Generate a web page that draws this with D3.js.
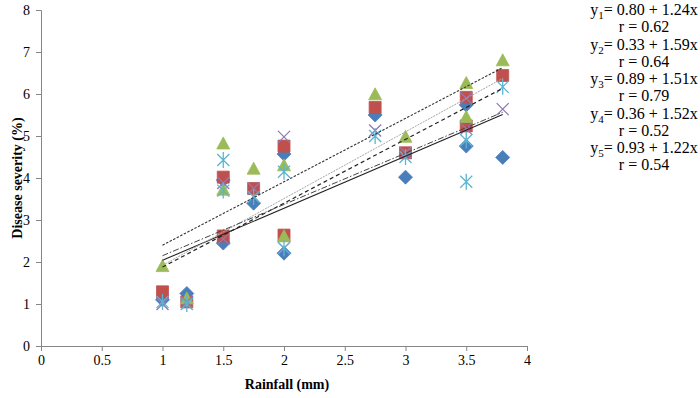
<!DOCTYPE html>
<html>
<head>
<meta charset="utf-8">
<script src="https://cdn.jsdelivr.net/npm/d3@7"></script>
<style>
  body { margin: 0; background: #fff; }
  text { font-family: "Liberation Serif", "Times New Roman", serif; fill: #000; }
</style>
</head>
<body>
<svg id="chart"></svg>
<script>
// Rainfall (mm) observations, shared by all five series
const rainfall = [1, 1.2, 1.5, 1.5, 1.75, 2, 2, 2.75, 3, 3.5, 3.5, 3.8];

// Disease severity (%) per series
const sev1 = [1.10, 1.25, 3.95, 2.45, 3.40, 4.57, 2.21, 5.50, 4.02, 5.74, 4.76, 4.49];
const sev2 = [1.29, 1.05, 4.02, 2.62, 3.75, 4.76, 2.64, 5.68, 4.60, 5.92, 5.24, 6.44];
const sev3 = [1.89, 1.12, 4.81, 3.71, 4.21, 4.29, 2.60, 5.98, 4.97, 6.25, 5.44, 6.79];
const sev4 = [1.00, 1.05, 3.88, 2.55, 3.75, 4.98, 2.33, 5.13, 4.60, 5.90, 5.17, 5.64];
const sev5 = [1.05, 1.00, 4.43, 3.70, 3.55, 4.15, 2.33, 5.00, 4.50, 4.90, 3.91, 6.17];

// fitted equations printed on the chart
const intercepts = [0.80, 0.33, 0.89, 0.36, 0.93];
const slopes = [1.24, 1.59, 1.51, 1.52, 1.22];
const rValues = ["0.62", "0.64", "0.79", "0.52", "0.54"];

const xTicks = [0, 0.5, 1, 1.5, 2, 2.5, 3, 3.5, 4];
const yTicks = [0, 1, 2, 3, 4, 5, 6, 7, 8];

const svg_width = 700, svg_height = 398;
const svg = d3.select("#chart")
    .attr("width", svg_width)
    .attr("height", svg_height);

const x = d3.scaleLinear().domain([0, 4]).range([41, 527]);
const y = d3.scaleLinear().domain([0, 8]).range([346, 10]);

const axisColor = "#868686";

// axes
const gx = svg.append("g")
    .attr("transform", `translate(0,${y(0)})`)
    .call(d3.axisBottom(x).tickValues(xTicks).tickFormat(d3.format("")).tickSizeOuter(0).tickSize(5).tickPadding(4));
const gy = svg.append("g")
    .attr("transform", `translate(${x(0)},0)`)
    .call(d3.axisLeft(y).tickValues(yTicks).tickSizeOuter(0).tickSize(5).tickPadding(6));

[gx, gy].forEach(g => {
    g.select(".domain").attr("stroke", axisColor);
    g.selectAll(".tick line").attr("stroke", axisColor);
    g.selectAll(".tick text")
        .style("font-family", "'Liberation Serif', serif")
        .style("font-size", "14px")
        .attr("fill", "#000");
});

svg.append("text")
    .attr("x", 287)
    .attr("y", 389)
    .attr("text-anchor", "middle")
    .style("font-size", "14px")
    .style("font-weight", "bold")
    .text("Rainfall (mm)");

svg.append("text")
    .attr("transform", `translate(17,${y(4)}) rotate(-90)`)
    .attr("text-anchor", "middle")
    .attr("dy", "0.35em")
    .style("font-size", "14px")
    .style("font-weight", "bold")
    .text("Disease severity (%)");

// markers
const series = [
    { values: sev1, color: "#4A7EBB", shape: "diamond" },
    { values: sev2, color: "#C0504D", shape: "square" },
    { values: sev3, color: "#9BBB59", shape: "triangle" },
    { values: sev4, color: "#8D7AB5", shape: "x" },
    { values: sev5, color: "#5BB5D0", shape: "star" }
];

function markerPath(shape) {
    const p = d3.path();
    if (shape === "diamond") {
        p.moveTo(0, -7); p.lineTo(7, 0); p.lineTo(0, 7); p.lineTo(-7, 0); p.closePath();
    } else if (shape === "square") {
        p.rect(-6, -6, 12, 12);
    } else if (shape === "triangle") {
        p.moveTo(0, -7); p.lineTo(6.5, 5); p.lineTo(-6.5, 5); p.closePath();
    } else if (shape === "x") {
        p.moveTo(-6, -6); p.lineTo(6, 6); p.moveTo(6, -6); p.lineTo(-6, 6);
    } else {
        p.moveTo(-6, -6); p.lineTo(6, 6); p.moveTo(6, -6); p.lineTo(-6, 6);
        p.moveTo(0, -8); p.lineTo(0, 8);
    }
    return p.toString();
}

series.forEach(s => {
    const filled = s.shape === "diamond" || s.shape === "square" || s.shape === "triangle";
    svg.append("g")
        .selectAll("path")
        .data(s.values.map((v, i) => ({ x: rainfall[i], y: v })))
        .join("path")
        .attr("transform", d => `translate(${x(d.x)},${y(d.y)})`)
        .attr("d", markerPath(s.shape))
        .attr("fill", filled ? s.color : "none")
        .attr("stroke", s.color)
        .attr("stroke-width", filled ? 0.8 : 1.3);
});

// trend lines from the printed equations, over the observed rainfall range
const lineStyles = [
    { dash: null, color: "#222", width: 1.1 },
    { dash: "2,1", color: "#a6a6a6", width: 1 },
    { dash: "2.5,1.5", color: "#333", width: 1.1 },
    { dash: "4,3", color: "#222", width: 1.2 },
    { dash: "6,2,1.5,2", color: "#444", width: 1 }
];
const xMin = d3.min(rainfall), xMax = d3.max(rainfall);
const trend = d3.line().x(d => x(d[0])).y(d => y(d[1]));

intercepts.forEach((a, i) => {
    const b = slopes[i];
    svg.append("path")
        .datum([[xMin, a + b * xMin], [xMax, a + b * xMax]])
        .attr("d", trend)
        .attr("fill", "none")
        .attr("stroke", lineStyles[i].color)
        .attr("stroke-width", lineStyles[i].width)
        .attr("stroke-dasharray", lineStyles[i].dash);
});

// equation labels
const eq = svg.append("g").style("font-size", "16px");
intercepts.forEach((a, i) => {
    const top = 15 + i * 34.5;
    const t = eq.append("text")
        .attr("x", 644)
        .attr("y", top)
        .attr("text-anchor", "middle");
    t.append("tspan").text("y");
    t.append("tspan").attr("dy", 4).style("font-size", "11px").text(i + 1);
    t.append("tspan").attr("dy", -4).text(`= ${a.toFixed(2)} + ${slopes[i].toFixed(2)}x`);
    eq.append("text")
        .attr("x", 644)
        .attr("y", top + 17)
        .attr("text-anchor", "middle")
        .text(`r  = ${rValues[i]}`);
});
</script>
</body>
</html>
